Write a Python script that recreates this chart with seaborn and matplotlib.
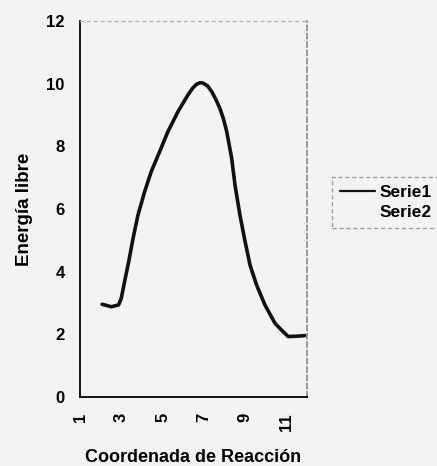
import matplotlib
matplotlib.use("Agg")
import matplotlib.pyplot as plt
import seaborn as sns
import pandas as pd

# ---- data ----
coord = [2.07, 2.52, 2.87, 3.0, 3.16, 3.36, 3.57, 3.81, 4.13, 4.45, 4.86, 5.26,
         5.75, 6.23, 6.45, 6.64, 6.82, 6.96, 7.18, 7.38, 7.58, 7.78, 7.95, 8.11,
         8.35, 8.51, 8.75, 9.0, 9.24, 9.56, 9.96, 10.45, 10.85, 11.09, 11.5, 11.9]
serie1 = [2.96, 2.88, 2.94, 3.15, 3.68, 4.32, 5.06, 5.81, 6.55, 7.19, 7.83, 8.47,
          9.11, 9.64, 9.85, 9.98, 10.03, 10.02, 9.93, 9.75, 9.5, 9.21, 8.88, 8.47,
          7.62, 6.77, 5.81, 4.96, 4.21, 3.57, 2.94, 2.35, 2.08, 1.93, 1.94, 1.96]
serie2 = []
x_ticks = list(range(1, 13))
x_ticklabels = ["1", "", "3", "", "5", "", "7", "", "9", "", "11", ""]
y_ticks = [0, 2, 4, 6, 8, 10, 12]
x_title = "Coordenada de Reacción"
y_title = "Energía libre"
series_names = ["Serie1", "Serie2"]

sns.set_theme(style="white")
plt.rcParams["font.family"] = ["Liberation Sans", "DejaVu Sans"]
plt.rcParams["font.weight"] = "bold"
plt.rcParams["text.color"] = "black"
plt.rcParams["axes.labelcolor"] = "black"
plt.rcParams["xtick.color"] = "black"
plt.rcParams["ytick.color"] = "black"

bg = "#f3f3f3"
fig = plt.figure(figsize=(4.37, 4.66), dpi=100, facecolor=bg)
ax = fig.add_axes([80 / 437, 1 - 397 / 466, 227 / 437, 376 / 466])
ax.set_facecolor(bg)

df = pd.DataFrame({"x": coord, "y": serie1})
sns.lineplot(data=df, x="x", y="y", ax=ax, color="#111111", linewidth=2.6,
             label=series_names[0], legend=False, sort=False)
ax.lines[0].set_solid_joinstyle("round")
ax.lines[0].set_solid_capstyle("round")
ax.plot(serie2, serie2, color="none", label=series_names[1])

ax.set_xlim(1, 12)
ax.set_ylim(0, 12)
ax.set_xticks(x_ticks)
ax.set_xticklabels(x_ticklabels, rotation=90, fontsize=12, fontweight="bold",
                   color="black")
ax.set_yticks(y_ticks)
ax.set_yticklabels([str(v) for v in y_ticks], fontsize=12, fontweight="bold",
                   color="black")
ax.tick_params(axis="x", direction="inout", length=7, width=1.2, color="#111111", pad=8)
ax.tick_params(axis="y", direction="out", length=3, width=1, color="#a0a0a0", pad=8)

ax.set_xlabel(x_title, fontsize=13, fontweight="bold", color="black")
ax.set_ylabel(y_title, fontsize=13.5, fontweight="bold", color="black")
ax.xaxis.set_label_coords(0.5, (397 - 449) / 376)
ax.yaxis.set_label_coords((33 - 80) / 227, 0.5)

for s in ["left", "bottom"]:
    ax.spines[s].set_color("#111111")
    ax.spines[s].set_linewidth(1.4)
ax.spines["top"].set_color("#b5b5b5")
ax.spines["top"].set_linewidth(1.0)
ax.spines["top"].set_linestyle((0, (2, 3)))
ax.spines["right"].set_color("#8a8a8a")
ax.spines["right"].set_linewidth(1.2)
ax.spines["right"].set_linestyle((0, (3, 2)))

handles, labels = ax.get_legend_handles_labels()
leg = fig.legend(handles, labels, loc="upper left",
                 bbox_to_anchor=(332 / 437, 1 - 177 / 466),
                 frameon=True, fancybox=False,
                 prop={"weight": "bold", "size": 12.5},
                 handlelength=2.0, handletextpad=0.3, labelspacing=0.3,
                 borderpad=0.45, borderaxespad=0)
for t in leg.get_texts():
    t.set_color("black")
for h in leg.get_lines():
    h.set_linewidth(1.6)
fr = leg.get_frame()
fr.set_facecolor(bg)
fr.set_edgecolor("#8a8a8a")
fr.set_linewidth(1.0)
fr.set_linestyle((0, (3, 2)))

fig.savefig("out.png", dpi=100, facecolor=bg)
